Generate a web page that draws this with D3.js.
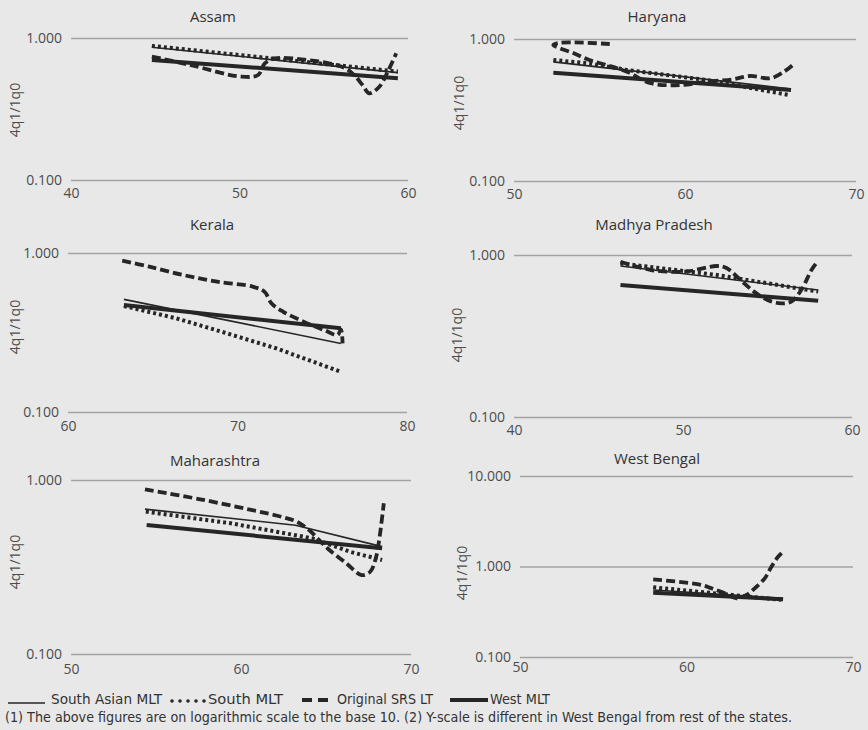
<!DOCTYPE html>
<html>
<head>
<meta charset="utf-8">
<script src="https://cdn.jsdelivr.net/npm/d3@7"></script>
<style>
body { margin: 0; background: #e8e8e8; }
svg { display: block; }
</style>
</head>
<body>
<svg id="chart" width="868" height="730"></svg>
<script>
// values, [x, 4q1/1q0]
const states = ["Assam", "Haryana", "Kerala", "Madhya Pradesh", "Maharashtra", "West Bengal"];
const xDomains = [[40, 60], [50, 70], [60, 80], [40, 60], [50, 70], [50, 70]];
const yTicksStd = [0.1, 1];
const yTicksWB = [0.1, 1, 10];
const seriesNames = ["South Asian MLT", "South MLT", "Original SRS LT", "West MLT"];

const assamSouthAsian = [[44.8, 0.86], [59.4, 0.57]];
const assamSouth = [[44.8, 0.88], [59.4, 0.58]];
const assamSrs = [[44.8, 0.74], [47.1, 0.645], [50.1, 0.534], [51.1, 0.549], [51.5, 0.663], [52.1, 0.719], [54.0, 0.70], [55.3, 0.663], [56.3, 0.611], [56.8, 0.549], [57.3, 0.467], [57.7, 0.408], [58.3, 0.454], [58.8, 0.579], [59.3, 0.78]];
const assamWest = [[44.8, 0.70], [59.4, 0.52]];

const haryanaSouthAsian = [[52.3, 0.69], [66.2, 0.445]];
const haryanaSouth = [[52.3, 0.711], [54.4, 0.674], [56.6, 0.605], [61.3, 0.514], [66.1, 0.403]];
const haryanaSrs = [[55.6, 0.922], [52.7, 0.942], [52.3, 0.907], [52.7, 0.86], [53.5, 0.793], [54.4, 0.711], [55.4, 0.656], [56.6, 0.589], [58.0, 0.488], [59.7, 0.474], [61.3, 0.501], [62.8, 0.52], [63.8, 0.549], [65.0, 0.529], [65.8, 0.589], [66.3, 0.656]];
const haryanaWest = [[52.3, 0.578], [66.2, 0.438]];

const keralaSouthAsian = [[63.3, 0.511], [76.1, 0.27]];
const keralaSouth = [[63.3, 0.464], [66.4, 0.388], [69.4, 0.312], [72.3, 0.251], [76.1, 0.179]];
const keralaSrs = [[63.2, 0.895], [64.8, 0.82], [66.8, 0.727], [68.8, 0.66], [70.9, 0.614], [71.6, 0.57], [72.0, 0.483], [72.7, 0.427], [73.9, 0.37], [75.1, 0.328], [75.9, 0.305], [76.1, 0.33], [76.2, 0.27]];
const keralaWest = [[63.3, 0.471], [76.1, 0.336]];

const mpSouthAsian = [[46.3, 0.855], [58.0, 0.608]];
const mpSouth = [[46.3, 0.888], [52.0, 0.753], [58.0, 0.594]];
const mpSrs = [[46.3, 0.909], [48.1, 0.808], [50.1, 0.789], [52.0, 0.855], [52.6, 0.828], [53.4, 0.701], [54.2, 0.594], [55.0, 0.528], [55.8, 0.503], [56.4, 0.515], [57.0, 0.608], [57.6, 0.808], [57.95, 0.909]];
const mpWest = [[46.3, 0.653], [58.0, 0.522]];

const mahaSouthAsian = [[54.35, 0.68], [63.2, 0.55], [68.3, 0.414]];
const mahaSouth = [[54.4, 0.658], [59.4, 0.564], [64.2, 0.462], [66.4, 0.387], [68.3, 0.347]];
const mahaSrs = [[54.35, 0.884], [57.6, 0.775], [60.6, 0.673], [62.5, 0.61], [63.3, 0.575], [64.0, 0.516], [64.6, 0.452], [65.2, 0.396], [66.2, 0.332], [67.1, 0.284], [67.6, 0.297], [67.9, 0.347], [68.1, 0.433], [68.4, 0.735]];
const mahaWest = [[54.45, 0.551], [68.3, 0.405]];

const wbSouthAsian = [[58.0, 0.55], [65.8, 0.445]];
const wbSouth = [[58.0, 0.589], [65.8, 0.427]];
const wbSrs = [[58.0, 0.722], [60.9, 0.625], [61.5, 0.574], [62.3, 0.506], [63.0, 0.445], [63.6, 0.484], [64.1, 0.574], [64.7, 0.74], [65.1, 0.995], [65.5, 1.28], [65.8, 1.46]];
const wbWest = [[58.0, 0.513], [65.8, 0.434]];

const footnote = "(1) The above figures are on logarithmic scale to the base 10. (2) Y-scale is different in West Bengal from rest of the states.";

// layout of the six panels (pixel boxes), kept apart from the data
var layout = [
	{ xr: [71, 408], yr: [180, 38], title: [213, 22], ylab: [20, 110], xpad: 8 },
	{ xr: [514, 856], yr: [181, 39], title: [657, 22], ylab: [464, 103], xpad: 8 },
	{ xr: [68, 407], yr: [412, 253], title: [212, 230], ylab: [20, 327], xpad: 9 },
	{ xr: [514, 852], yr: [417, 255], title: [654, 230], ylab: [462, 335], xpad: 8 },
	{ xr: [71, 411], yr: [654, 480], title: [215, 466], ylab: [20, 562], xpad: 10 },
	{ xr: [520, 853], yr: [657, 476], title: [657, 464], ylab: [467, 573], xpad: 5 }
];

var panelSeries = [
	[assamSouthAsian, assamSouth, assamSrs, assamWest],
	[haryanaSouthAsian, haryanaSouth, haryanaSrs, haryanaWest],
	[keralaSouthAsian, keralaSouth, keralaSrs, keralaWest],
	[mpSouthAsian, mpSouth, mpSrs, mpWest],
	[mahaSouthAsian, mahaSouth, mahaSrs, mahaWest],
	[wbSouthAsian, wbSouth, wbSrs, wbWest]
];

var ink = "#262626";
var styles = [
	{ width: 1.6, dash: null, cap: "butt", curve: d3.curveLinear },
	{ width: 4, dash: "3,3", cap: "butt", curve: d3.curveLinear },
	{ width: 3.8, dash: "9,4", cap: "butt", curve: d3.curveCatmullRom.alpha(0.5) },
	{ width: 4, dash: null, cap: "butt", curve: d3.curveLinear }
];

var font = "'Open Sans', 'DejaVu Sans', sans-serif";
var narrow = "'Liberation Sans Narrow', 'DejaVu Sans Condensed', 'Open Sans', sans-serif";

var svg = d3.select("#chart");

states.forEach((name, i) => {
	let L = layout[i];
	let yt = name == "West Bengal" ? yTicksWB : yTicksStd;
	let xd = xDomains[i];

	let x = d3.scaleLinear().domain(xd).range(L.xr);
	let y = d3.scaleLog().domain(d3.extent(yt)).range(L.yr);

	let g = svg.append("g").attr("class", "panel");

	// y gridlines + labels
	let yAxis = g.append("g")
		.attr("transform", `translate(${L.xr[0]}, 0)`)
		.call(d3.axisLeft(y)
			.tickValues(yt)
			.tickFormat(d3.format(".3f"))
			.tickSize(-(L.xr[1] - L.xr[0]))
			.tickPadding(9));
	yAxis.select(".domain").remove();
	yAxis.selectAll(".tick line").attr("stroke", "#a3a3a3").attr("stroke-width", 1.6);
	yAxis.selectAll(".tick text")
		.attr("font-family", font)
		.attr("font-size", "14px")
		.attr("fill", "#4d4d4d");

	// x tick labels
	let xAxis = g.append("g")
		.attr("transform", `translate(0, ${L.yr[0]})`)
		.call(d3.axisBottom(x)
			.tickValues([xd[0], (xd[0] + xd[1]) / 2, xd[1]])
			.tickFormat(d3.format("d"))
			.tickSize(0)
			.tickPadding(L.xpad));
	xAxis.select(".domain").remove();
	xAxis.selectAll(".tick text")
		.attr("font-family", font)
		.attr("font-size", "14px")
		.attr("fill", "#4d4d4d");

	g.append("text")
		.attr("x", L.title[0])
		.attr("y", L.title[1])
		.attr("text-anchor", "middle")
		.attr("font-family", font)
		.attr("font-size", "15px")
		.attr("fill", "#333")
		.text(name);

	g.append("text")
		.attr("transform", `translate(${L.ylab[0]}, ${L.ylab[1]}) rotate(-90)`)
		.attr("text-anchor", "middle")
		.attr("font-family", font)
		.attr("font-size", "14px")
		.attr("fill", "#4d4d4d")
		.text("4q1/1q0");

	// draw order: west, south asian, south, srs
	[3, 0, 1, 2].forEach(k => {
		let st = styles[k];
		let line = d3.line()
			.x(d => x(d[0]))
			.y(d => y(d[1]))
			.curve(st.curve);
		g.append("path")
			.datum(panelSeries[i][k])
			.attr("fill", "none")
			.attr("stroke", ink)
			.attr("stroke-width", st.width)
			.attr("stroke-dasharray", st.dash)
			.attr("stroke-linecap", st.cap)
			.attr("stroke-linejoin", "round")
			.attr("d", line);
	});
});

// legend
var legendPos = [
	{ x1: 8, x2: 45, y: 703, tx: 51, tw: 111 },
	{ x1: 172, x2: 205, y: 701, tx: 208, tw: 75 },
	{ x1: 302, x2: 328, y: 700, tx: 337, tw: 96 },
	{ x1: 450, x2: 488, y: 700, tx: 490, tw: 60 }
];
var legendDash = [null, "0,8", "10,6", null];
var legendCap = ["butt", "round", "butt", "butt"];
var legend = svg.append("g").attr("class", "legend");
seriesNames.forEach((s, k) => {
	let p = legendPos[k];
	legend.append("line")
		.attr("x1", p.x1).attr("x2", p.x2)
		.attr("y1", p.y).attr("y2", p.y)
		.attr("stroke", ink)
		.attr("stroke-width", k == 1 ? 3.6 : styles[k].width)
		.attr("stroke-dasharray", legendDash[k])
		.attr("stroke-linecap", legendCap[k]);
	legend.append("text")
		.attr("x", p.tx)
		.attr("y", 704)
		.attr("font-family", narrow)
		.attr("font-size", "14px")
		.attr("fill", "#333")
		.attr("textLength", p.tw)
		.attr("lengthAdjust", "spacingAndGlyphs")
		.text(s);
});

svg.append("text")
	.attr("x", 5)
	.attr("y", 722)
	.attr("font-family", narrow)
	.attr("font-size", "14px")
	.attr("fill", "#333")
	.attr("textLength", 787)
	.attr("lengthAdjust", "spacingAndGlyphs")
	.text(footnote);
</script>
</body>
</html>
